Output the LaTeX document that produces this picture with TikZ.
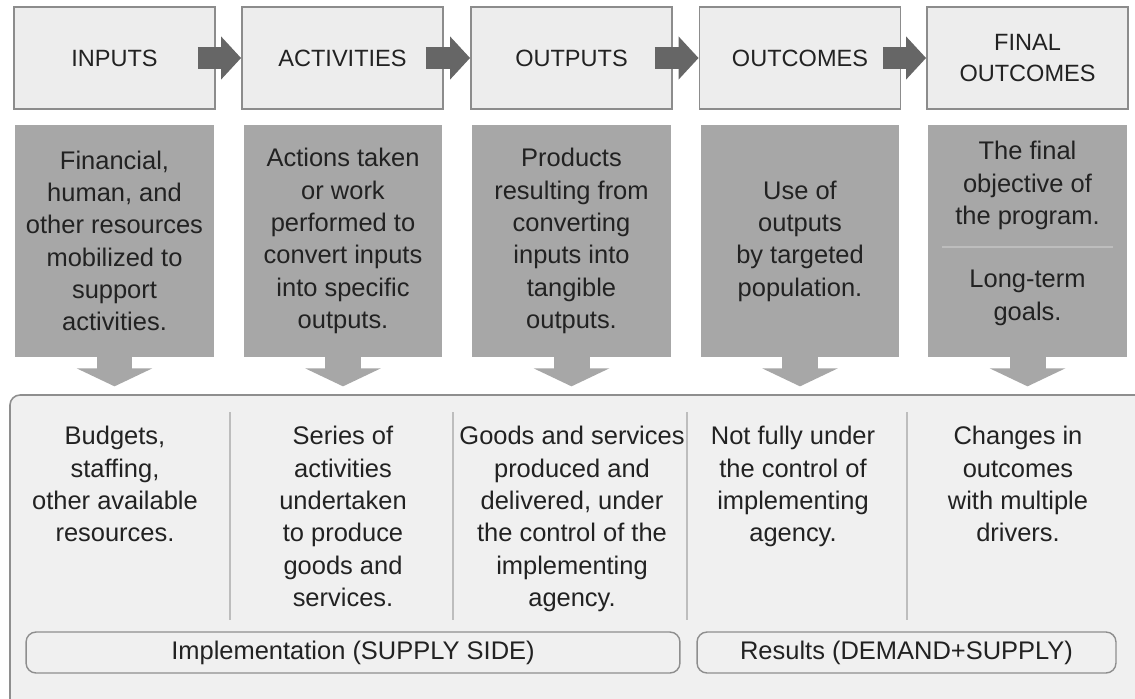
\documentclass[tikz,border=0pt]{standalone}
\usepackage{fontspec}
\setmainfont{Liberation Sans}
\usetikzlibrary{arrows.meta,positioning}
\definecolor{hdrfill}{HTML}{EDEDED}
\definecolor{hdrline}{HTML}{8C8C8C}
\definecolor{descfill}{HTML}{A7A7A7}
\definecolor{flowgray}{HTML}{666666}
\definecolor{basefill}{HTML}{F0F0F0}
\definecolor{baseline}{HTML}{8E8E8E}
\definecolor{sepline}{HTML}{BDBDBD}
\definecolor{txt}{HTML}{222222}
\begin{document}
\begin{tikzpicture}[x=0.02cm,y=-0.02cm,
  hdr/.style={draw=hdrline,fill=hdrfill,line width=1.1pt,minimum width=4.02cm,minimum height=2.04cm,align=center,text=txt,font=\fontsize{13.4}{18.2}\selectfont},
  desc/.style={fill=descfill,minimum width=3.98cm,minimum height=4.64cm,align=center,text=txt,font=\fontsize{14.5}{18.4}\selectfont},
  note/.style={inner sep=0pt,align=center,text=txt,font=\fontsize{14.5}{18.4}\selectfont},
  tag/.style={draw=baseline,fill=basefill,line width=0.8pt,rounded corners=0.2cm,minimum height=0.82cm,text=txt,font=\fontsize{14.5}{18.4}\selectfont},
  flow/.style={draw=flowgray,line width=0.44cm,-{Triangle[length=0.4cm,width=0.84cm]}},
  drop/.style={draw=descfill,line width=0.72cm,-{Triangle[length=0.36cm,width=1.5cm]}}]
\clip (0,0) rectangle (1135,698);
\fill[white] (0,0) rectangle (1135,698);
\node[hdr] (I) at (114.5,58) {INPUTS};
\node[hdr] (A) at (342.5,58) {ACTIVITIES};
\node[hdr] (O) at (571.5,58) {OUTPUTS};
\node[hdr] (C) at (800,58) {OUTCOMES};
\node[hdr] (F) at (1027.5,58) {FINAL\\OUTCOMES};
\draw[flow] ([xshift=-0.36cm]I.east) -- (A.west);
\draw[flow] ([xshift=-0.36cm]A.east) -- (O.west);
\draw[flow] ([xshift=-0.36cm]O.east) -- (C.west);
\draw[flow] ([xshift=-0.36cm]C.east) -- (F.west);
\node[desc] (G1) at (114.5,241) {Financial,\\human, and\\other resources\\mobilized to\\support\\activities.};
\node[desc] (G2) at (343,241) {Actions taken\\or work\\performed to\\convert inputs\\into specific\\outputs.};
\node[desc] (G3) at (571.5,241) {Products\\resulting from\\converting\\inputs into\\tangible\\outputs.};
\node[desc] (G4) at (800,241) {Use of\\outputs\\by targeted\\population.};
\node[desc] (G5) at (1027.5,241) {};
\node[note,anchor=north] (G5a) at (1027.5,141) {The final\\objective of\\the program.};
\draw[sepline,line width=0.6pt] (942,247) -- (1113,247);
\node[note,anchor=north] (G5b) at (1027.5,270) {Long-term\\goals.};
\draw[draw=baseline,fill=basefill,line width=0.9pt,rounded corners=0.2cm] (10,395) rectangle (1160,720);
\draw[drop] (G1.south) -- ++(0,29);
\draw[drop] (G2.south) -- ++(0,29);
\draw[drop] (G3.south) -- ++(0,29);
\draw[drop] (G4.south) -- ++(0,29);
\draw[drop] (G5.south) -- ++(0,29);
\draw[sepline,line width=0.7pt] (230,412) -- (230,620);
\draw[sepline,line width=0.7pt] (453,412) -- (453,620);
\draw[sepline,line width=0.7pt] (687,412) -- (687,620);
\draw[sepline,line width=0.7pt] (907,412) -- (907,620);
\node[note,anchor=north] (B1) at (115,426) {Budgets,\\staffing,\\other available\\resources.};
\node[note,anchor=north] (B2) at (343,426) {Series of\\activities\\undertaken\\to produce\\goods and\\services.};
\node[note,anchor=north] (B3) at (572,426) {Goods and services\\produced and\\delivered, under\\the control of the\\implementing\\agency.};
\node[note,anchor=north] (B4) at (793,426) {Not fully under\\the control of\\implementing\\agency.};
\node[note,anchor=north] (B5) at (1018,426) {Changes in\\outcomes\\with multiple\\drivers.};
\node[tag,minimum width=13.08cm] (impl) at (353,652.5) {Implementation (SUPPLY SIDE)};
\node[tag,minimum width=8.38cm] (res) at (906.5,652.5) {Results (DEMAND+SUPPLY)};
\end{tikzpicture}
\end{document}
